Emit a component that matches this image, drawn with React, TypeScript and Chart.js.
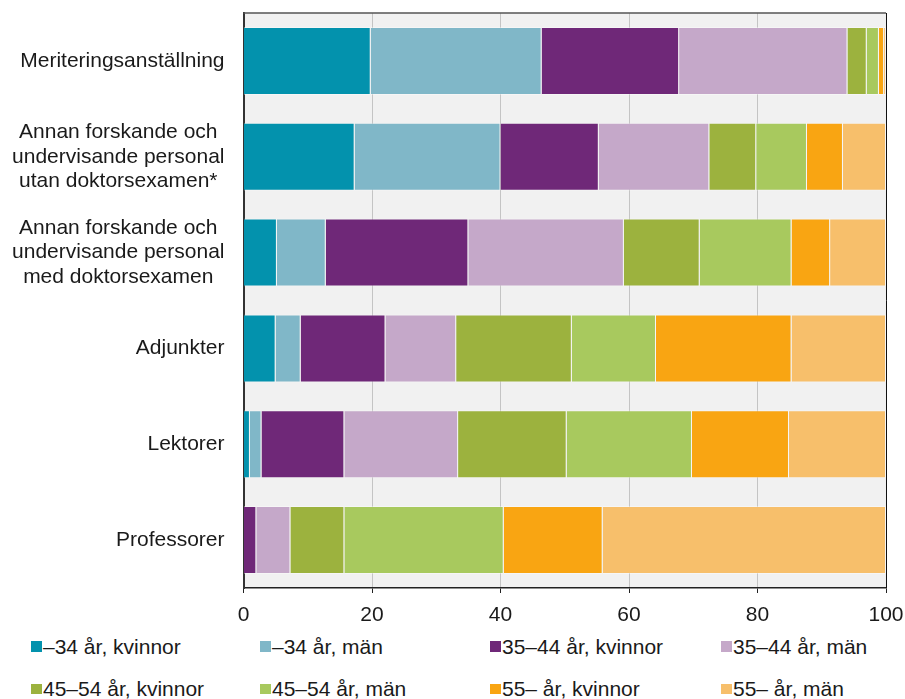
import React, { useEffect, useRef } from "react";
import { Chart, registerables } from "chart.js";

Chart.register(...registerables);

const categories: string[][] = [
  ["Meriteringsanställning"],
  ["Annan forskande och", "undervisande personal", "utan doktorsexamen*"],
  ["Annan forskande och", "undervisande personal", "med doktorsexamen"],
  ["Adjunkter"],
  ["Lektorer"],
  ["Professorer"],
];

const seriesNames = [
  "–34 år, kvinnor",
  "–34 år, män",
  "35–44 år, kvinnor",
  "35–44 år, män",
  "45–54 år, kvinnor",
  "45–54 år, män",
  "55– år, kvinnor",
  "55– år, män",
];

const seriesColors = [
  "#0392ad",
  "#80b7c8",
  "#6f2878",
  "#c5a8c9",
  "#9cb23e",
  "#a8c95e",
  "#f9a512",
  "#f7bf6b",
];

const under34Women = [19.8, 17.3, 5.2, 5.0, 1.0, 0];
const under34Men = [26.6, 22.7, 7.6, 3.9, 1.8, 0];
const age35to44Women = [21.4, 15.3, 22.2, 13.2, 12.9, 2.0];
const age35to44Men = [26.2, 17.2, 24.2, 11.0, 17.7, 5.3];
const age45to54Women = [3.0, 7.3, 11.8, 18.0, 16.9, 8.4];
const age45to54Men = [1.9, 7.9, 14.3, 13.1, 19.5, 24.8];
const over55Women = [0.8, 5.6, 6.0, 21.1, 15.1, 15.4];
const over55Men = [0.3, 6.7, 8.7, 14.7, 15.1, 44.1];

const seriesValues = [
  under34Women,
  under34Men,
  age35to44Women,
  age35to44Men,
  age45to54Women,
  age45to54Men,
  over55Women,
  over55Men,
];

const xTicks = [0, 20, 40, 60, 80, 100];

const FONT_FAMILY = "'Liberation Sans', Arial, Helvetica, sans-serif";
const FONT_SIZE = 21;
const TEXT_COLOR = "#1a1a1a";

const bgPlugin = {
  id: "plotBg",
  beforeDraw(chart: any) {
    const { ctx, chartArea } = chart;
    ctx.save();
    ctx.fillStyle = "#f1f1f1";
    ctx.fillRect(chartArea.left, chartArea.top, chartArea.right - chartArea.left, chartArea.bottom - chartArea.top);
    ctx.restore();
  },
  afterDatasetsDraw(chart: any) {
    const { ctx, chartArea } = chart;
    ctx.save();
    ctx.strokeStyle = "#555";
    ctx.lineWidth = 1.5;
    ctx.beginPath();
    ctx.moveTo(chartArea.left, chartArea.top);
    ctx.lineTo(chartArea.right, chartArea.top);
    ctx.stroke();
    ctx.strokeStyle = "#111";
    ctx.lineWidth = 1;
    ctx.beginPath();
    ctx.moveTo(chartArea.right + 0.5, chartArea.top);
    ctx.lineTo(chartArea.right + 0.5, chartArea.bottom);
    ctx.stroke();
    ctx.restore();
  },
  afterDraw(chart: any) {
    const { ctx } = chart;
    const yScale = chart.scales.y;
    const labels = chart.data.labels as string[][];
    const rightEdge = 224.5;
    const lineH = 24.5;
    ctx.save();
    ctx.font = `${FONT_SIZE}px ${FONT_FAMILY}`;
    ctx.fillStyle = TEXT_COLOR;
    ctx.textAlign = "center";
    ctx.textBaseline = "middle";
    labels.forEach((lines, i) => {
      const yc = yScale.getPixelForTick(i);
      const w = Math.max(...lines.map((l) => ctx.measureText(l).width));
      const cx = rightEdge - w / 2;
      lines.forEach((line, j) => {
        const y = yc + (j - (lines.length - 1) / 2) * lineH;
        ctx.fillText(line, cx, y);
      });
    });
    ctx.restore();
  },
};

function ChartCanvas() {
  const ref = useRef<HTMLCanvasElement | null>(null);
  useEffect(() => {
    if (!ref.current) return;
    const chart = new Chart(ref.current, {
      type: "bar",
      data: {
        labels: categories as any,
        datasets: seriesNames.map((name, i) => ({
          label: name,
          data: seriesValues[i],
          backgroundColor: seriesColors[i],
          borderColor: "rgba(255,255,255,0.35)",
          borderWidth: 1,
          barPercentage: 0.71,
          categoryPercentage: 1,
        })),
      },
      options: {
        indexAxis: "y",
        animation: false,
        responsive: false,
        maintainAspectRatio: false,
        layout: { autoPadding: false, padding: { top: 13, right: 19, left: 0, bottom: 0 } },
        plugins: {
          legend: { display: false },
          tooltip: { enabled: false },
        },
        scales: {
          x: {
            stacked: true,
            min: 0,
            max: 100,
            afterBuildTicks: (scale: any) => {
              scale.ticks = xTicks.map((v) => ({ value: v }));
            },
            afterFit: (scale: any) => {
              scale.height = 42;
              scale.paddingLeft = 0;
              scale.paddingRight = 0;
            },
            grid: {
              color: "#c4c4c4",
              lineWidth: 1,
              tickLength: 5,
              tickColor: "#222",
              drawOnChartArea: true,
            },
            border: { color: "#222", width: 1.5 },
            ticks: {
              color: TEXT_COLOR,
              font: { family: FONT_FAMILY, size: FONT_SIZE },
              padding: 10,
            },
          },
          y: {
            stacked: true,
            afterFit: (scale: any) => {
              scale.width = 243.5;
            },
            grid: { display: false, drawTicks: false },
            border: { color: "#333", width: 2 },
            ticks: { display: false },
          },
        },
      },
      plugins: [bgPlugin],
    });
    return () => chart.destroy();
  }, []);
  return <canvas ref={ref} width={905} height={630} style={{ display: "block", width: 905, height: 630 }} />;
}

const legendCols = [31, 260, 490, 721];
const legendRows = [641, 683.5];

export default function App() {
  return (
    <div style={{ position: "absolute", left: 0, top: 0, width: 905, height: 699, background: "#fff", overflow: "hidden" }}>
      <ChartCanvas />
      {seriesNames.map((name, i) => {
        const col = i % 4;
        const row = Math.floor(i / 4);
        const bx = legendCols[col];
        const by = legendRows[row];
        return (
          <React.Fragment key={name}>
            <div
              style={{
                position: "absolute",
                left: bx,
                top: by,
                width: 11,
                height: 10.5,
                background: seriesColors[i],
              }}
            />
            <div
              style={{
                position: "absolute",
                left: bx + 12,
                top: by - 5.3,
                fontFamily: FONT_FAMILY,
                fontSize: FONT_SIZE,
                lineHeight: "21px",
                color: TEXT_COLOR,
                whiteSpace: "nowrap",
              }}
            >
              {name}
            </div>
          </React.Fragment>
        );
      })}
    </div>
  );
}
